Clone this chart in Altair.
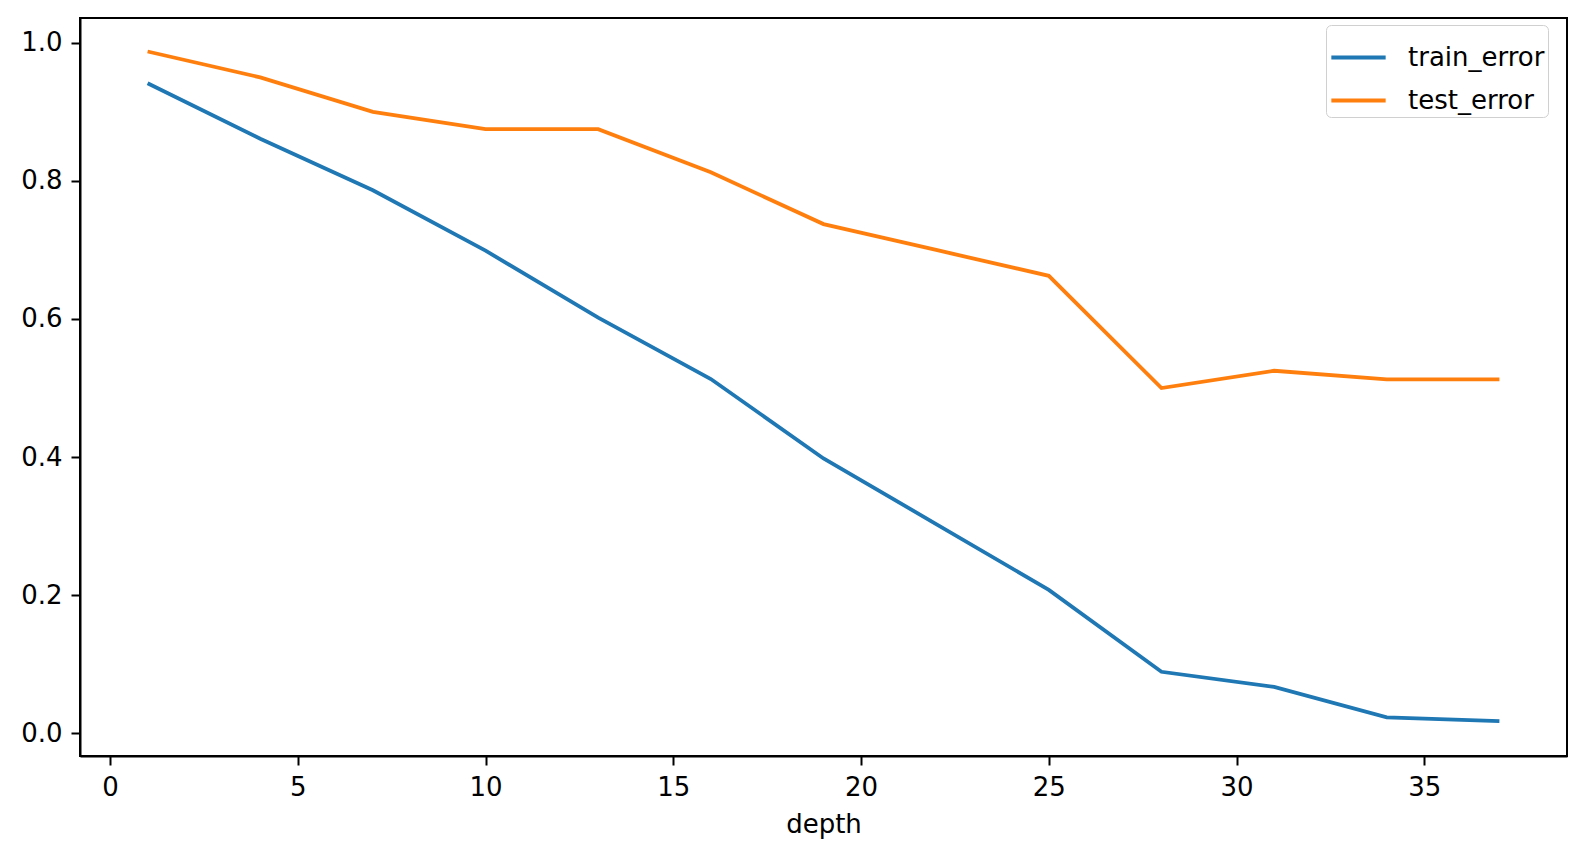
import altair as alt
import pandas as pd

depth = [1, 4, 7, 10, 13, 16, 19, 22, 25, 28, 31, 34, 37]
train_error = [0.9415, 0.861, 0.7865, 0.699, 0.602, 0.513, 0.398, 0.303, 0.2076, 0.089, 0.067, 0.023, 0.0175]
test_error = [0.9875, 0.95, 0.90, 0.875, 0.875, 0.8125, 0.7375, 0.70, 0.6625, 0.50, 0.525, 0.5125, 0.5125]
series_names = ["train_error", "test_error"]
series_colors = ["#1f77b4", "#ff7f0e"]
x_ticks = [0, 5, 10, 15, 20, 25, 30, 35]
y_ticks = [0.0, 0.2, 0.4, 0.6, 0.8, 1.0]

rows = []
for i, d in enumerate(depth):
    rows.append({"depth": d, "series": "train_error", "value": train_error[i]})
    rows.append({"depth": d, "series": "test_error", "value": test_error[i]})
df = pd.DataFrame(rows)

FONT = "DejaVu Sans"
FS = 26

chart = alt.Chart(df).mark_line(strokeWidth=3.8).encode(
    x=alt.X("depth:Q",
            scale=alt.Scale(domain=[-0.8, 38.8], nice=False, zero=False),
            axis=alt.Axis(values=x_ticks, title="depth", grid=False, format="d")),
    y=alt.Y("value:Q",
            scale=alt.Scale(domain=[-0.033, 1.036], nice=False, zero=False),
            axis=alt.Axis(values=y_ticks, title=None, grid=False, format=".1f")),
    color=alt.Color("series:N",
                    scale=alt.Scale(domain=series_names, range=series_colors),
                    sort=series_names,
                    legend=alt.Legend(title=None, orient="none", legendX=1246, legendY=7,
                                      symbolType="stroke", symbolSize=2950, symbolStrokeWidth=4,
                                      labelFontSize=FS, labelFont=FONT, labelColor="black",
                                      labelOffset=20, padding=3, rowPadding=0,
                                      strokeColor="#d0d0d0", cornerRadius=5, fillColor="white",
                                      labelLimit=400)),
    detail="series:N",
).properties(
    width=1487,
    height=738,
    autosize=alt.AutoSizeParams(type="none"),
    padding={"left": 72, "top": 10, "right": 10, "bottom": 90},
).configure_view(
    stroke="black", strokeWidth=2
).configure_axis(
    labelFont=FONT, labelFontSize=FS, labelColor="black",
    titleFont=FONT, titleFontSize=FS, titleColor="black", titleFontWeight="normal",
    domainColor="black", domainWidth=2, tickColor="black", tickWidth=2, tickSize=9,
    labelPadding=9, titlePadding=11
)

chart.save("out.html", embed_options={"renderer": "svg", "actions": False})
